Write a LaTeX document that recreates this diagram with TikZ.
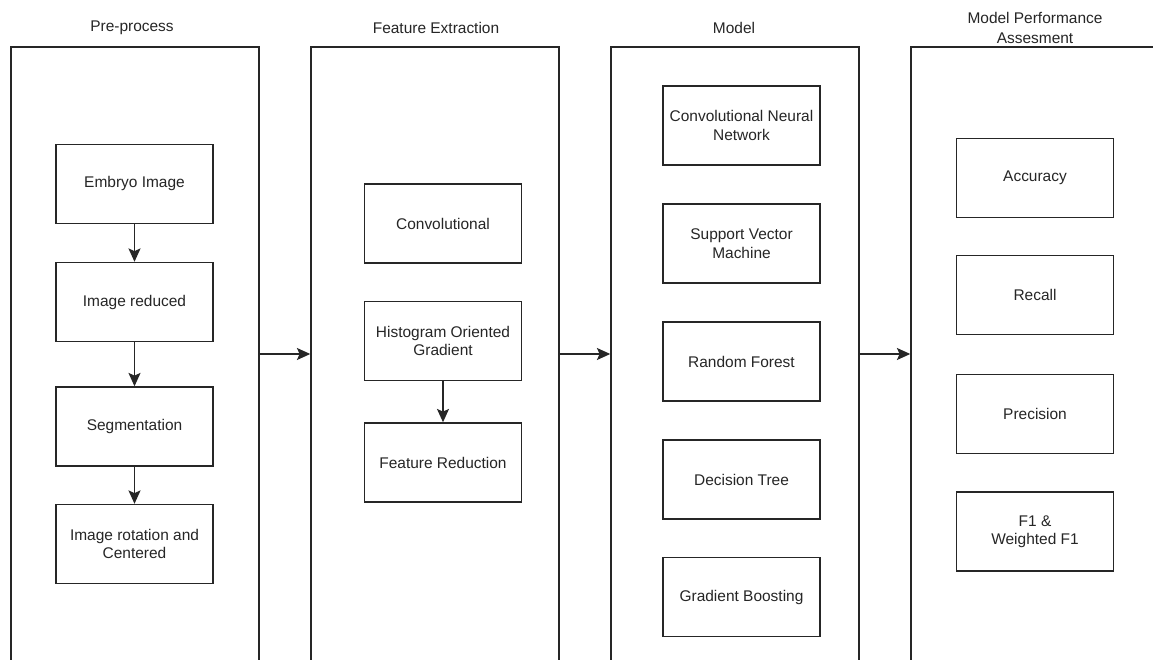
\documentclass[tikz,border=0pt]{standalone}
\usepackage{fontspec}
\setmainfont{Liberation Sans}
\usetikzlibrary{arrows.meta}
\begin{document}
\begin{tikzpicture}[x=0.75pt,y=-0.75pt,
  font=\fontsize{11.6pt}{13.8pt}\selectfont,
  colbox/.style={draw=black!85,line width=1.1pt,minimum width=186pt,minimum height=489.75pt,inner sep=0pt},
  stepbox/.style={draw=black!85,line width=1.1pt,minimum width=117.75pt,minimum height=59.25pt,align=center,inner sep=2pt,text=black!85},
  coltitle/.style={align=center,text=black!85},
  arr/.style={draw=black!85,line width=1.1pt,-{Stealth[length=10pt,width=9pt,inset=2pt]}}]
\useasboundingbox (0,0) rectangle (1153,660);
\clip (0,0) rectangle (1153,660);
\fill[white] (0,0) rectangle (1153,660);
% columns
\node[colbox] (c1) at (135,373.5) {};
\node[colbox] (c2) at (435,373.5) {};
\node[colbox] (c3) at (735,373.5) {};
\node[colbox] (c4) at (1035,373.5) {};
% titles
\node[coltitle] (t1) at (132,28) {Pre-process};
\node[coltitle] (t2) at (436,28) {Feature Extraction};
\node[coltitle] (t3) at (734,28) {Model};
\node[coltitle,font=\fontsize{11.6pt}{15.5pt}\selectfont] (t4) at (1035,28) {Model Performance\\Assesment};
% column 1
\node[stepbox] (a1) at (134.5,184) {Embryo Image};
\node[stepbox] (a2) at (134.5,302) {Image reduced};
\node[stepbox] (a3) at (134.5,426.5) {Segmentation};
\node[stepbox] (a4) at (134.5,544) {Image rotation and\\Centered};
\draw[arr] (a1) -- (a2);
\draw[arr] (a2) -- (a3);
\draw[arr] (a3) -- (a4);
% column 2
\node[stepbox] (b1) at (443,223.5) {Convolutional};
\node[stepbox] (b2) at (443,341) {Histogram Oriented\\Gradient};
\node[stepbox] (b3) at (443,462.5) {Feature Reduction};
\draw[arr] (b2) -- (b3);
% column 3
\node[stepbox] (m1) at (741.5,125.5) {Convolutional Neural\\Network};
\node[stepbox] (m2) at (741.5,243.5) {Support Vector\\Machine};
\node[stepbox] (m3) at (741.5,361.5) {Random Forest};
\node[stepbox] (m4) at (741.5,479.5) {Decision Tree};
\node[stepbox] (m5) at (741.5,597) {Gradient Boosting};
% column 4
\node[stepbox] (p1) at (1035,178) {Accuracy};
\node[stepbox] (p2) at (1035,295) {Recall};
\node[stepbox] (p3) at (1035,414) {Precision};
\node[stepbox] (p4) at (1035,531.5) {F1 \&\\Weighted F1};
% connectors between columns
\coordinate (mid) at (0,354);
\draw[arr] (c1.east |- mid) -- (c2.west |- mid);
\draw[arr] (c2.east |- mid) -- (c3.west |- mid);
\draw[arr] (c3.east |- mid) -- (c4.west |- mid);
\end{tikzpicture}
\end{document}
